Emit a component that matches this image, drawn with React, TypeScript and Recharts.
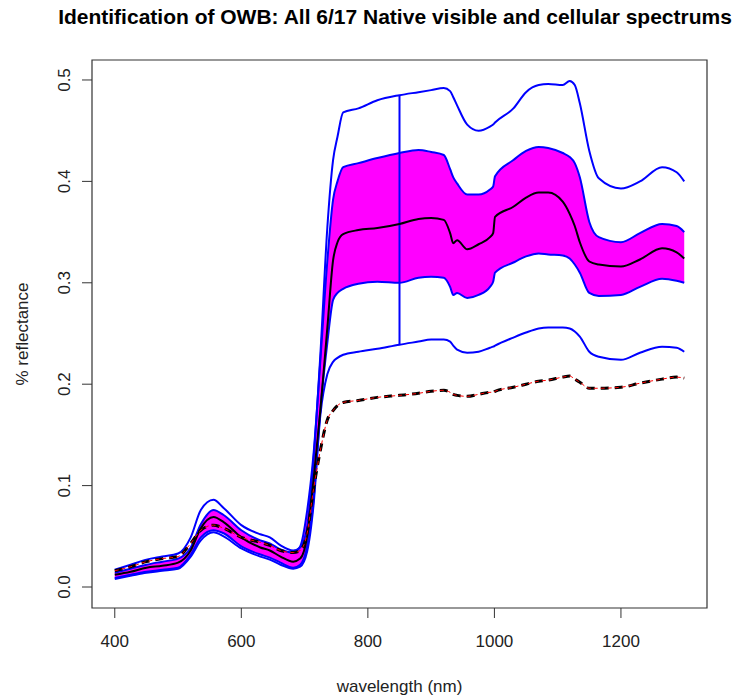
import React from "react";
import {
  Area,
  ComposedChart,
  Label,
  Line,
  ReferenceArea,
  ReferenceLine,
  XAxis,
  YAxis,
} from "recharts";

const FONT = "'Liberation Sans', Arial, sans-serif";

// wavelength grid (nm)
const wavelengths = [
  400, 425, 450, 475, 500, 520, 536, 556, 572, 600, 630, 645, 662, 682, 693, 704, 714, 725, 736, 745, 752,
  761, 785, 815, 850, 880, 900, 920, 930, 935, 941, 957, 975, 993, 998, 1001, 1030, 1050, 1070, 1085, 1108,
  1119, 1127, 1135, 1150, 1165, 1200, 1230, 1265, 1288, 1300,
];

const maxSpectrum = [
  0.017, 0.022, 0.027, 0.03, 0.033, 0.049, 0.076, 0.086, 0.078, 0.061, 0.052, 0.049, 0.041, 0.036, 0.039, 0.059, 0.125, 0.23, 0.355, 0.421, 0.444,
  0.468, 0.472, 0.48, 0.485, 0.488, 0.49, 0.492, 0.489, 0.483, 0.475, 0.456, 0.45, 0.454, 0.456, 0.458, 0.472, 0.488, 0.495, 0.496, 0.495,
  0.499, 0.495, 0.477, 0.43, 0.403, 0.393, 0.4, 0.414, 0.409, 0.4,
];

const upperSd = [
  0.014, 0.018, 0.022, 0.025, 0.028, 0.039, 0.062, 0.076, 0.071, 0.056, 0.046, 0.043, 0.037, 0.034, 0.04, 0.075, 0.13, 0.224, 0.322, 0.382, 0.4,
  0.414, 0.418, 0.423, 0.428, 0.431, 0.429, 0.426, 0.412, 0.404, 0.398, 0.387, 0.387, 0.392, 0.395, 0.405, 0.421, 0.43, 0.434, 0.433, 0.428,
  0.424, 0.418, 0.404, 0.36, 0.345, 0.34, 0.349, 0.358, 0.356, 0.35,
];

const meanSpectrum = [
  0.012, 0.015, 0.019, 0.021, 0.024, 0.036, 0.058, 0.069, 0.064, 0.049, 0.039, 0.036, 0.03, 0.025, 0.028, 0.05, 0.105, 0.175, 0.256, 0.322, 0.34,
  0.348, 0.352, 0.354, 0.358, 0.363, 0.364, 0.362, 0.349, 0.339, 0.342, 0.333, 0.338, 0.345, 0.349, 0.365, 0.375, 0.384, 0.389, 0.389, 0.38,
  0.368, 0.356, 0.34, 0.321, 0.318, 0.316, 0.323, 0.334, 0.33, 0.324,
];

const lowerSd = [
  0.009, 0.012, 0.015, 0.017, 0.019, 0.032, 0.049, 0.056, 0.053, 0.04, 0.032, 0.029, 0.024, 0.019, 0.022, 0.04, 0.085, 0.175, 0.241, 0.283, 0.29,
  0.294, 0.299, 0.301, 0.3, 0.305, 0.306, 0.305, 0.296, 0.288, 0.29, 0.285, 0.288, 0.296, 0.301, 0.31, 0.32, 0.326, 0.329, 0.328, 0.327,
  0.324, 0.318, 0.31, 0.29, 0.287, 0.288, 0.296, 0.304, 0.302, 0.3,
];

const minSpectrum = [
  0.008, 0.011, 0.014, 0.016, 0.018, 0.03, 0.046, 0.054, 0.05, 0.038, 0.03, 0.027, 0.022, 0.018, 0.02, 0.035, 0.08, 0.17, 0.21, 0.222, 0.226,
  0.229, 0.232, 0.235, 0.239, 0.242, 0.244, 0.244, 0.242, 0.238, 0.234, 0.231, 0.232, 0.236, 0.237, 0.238, 0.246, 0.251, 0.255, 0.256, 0.256,
  0.255, 0.252, 0.247, 0.232, 0.227, 0.224, 0.231, 0.237, 0.236, 0.232,
];

const referenceSpectrum = [
  0.016, 0.02, 0.025, 0.028, 0.03, 0.043, 0.056, 0.061, 0.058, 0.049, 0.044, 0.041, 0.036, 0.034, 0.036, 0.053, 0.096, 0.135, 0.165, 0.174, 0.179,
  0.182, 0.184, 0.187, 0.189, 0.191, 0.193, 0.194, 0.192, 0.19, 0.189, 0.188, 0.19, 0.192, 0.192, 0.193, 0.197, 0.2, 0.203, 0.204, 0.207,
  0.208, 0.205, 0.202, 0.196, 0.196, 0.197, 0.201, 0.205, 0.207, 0.206,
];

// stray vertical segment at ~850 nm
const spikeWavelength = 850;
const spikeLow = 0.239;
const spikeHigh = 0.485;

const xTicks = [400, 600, 800, 1000, 1200];
const yTicks = [0, 0.1, 0.2, 0.3, 0.4, 0.5];
const xDomain = [364, 1336];
const yDomain = [-0.0207, 0.5197];

const rows = wavelengths.map((wl, i) => ({
  wl,
  max: maxSpectrum[i],
  upper: upperSd[i],
  mean: meanSpectrum[i],
  lower: lowerSd[i],
  band: [lowerSd[i], upperSd[i]],
  min: minSpectrum[i],
  ref: referenceSpectrum[i],
}));

function XTick(props: any) {
  const { x, y, payload } = props;
  return (
    <text x={x} y={y + 27} textAnchor="middle" fontSize={17} fill="#222" fontFamily={FONT}>
      {payload.value}
    </text>
  );
}

function YTick(props: any) {
  const { x, y, payload } = props;
  const tx = x - 10;
  return (
    <text
      x={tx}
      y={y}
      transform={`rotate(-90, ${tx}, ${y})`}
      textAnchor="middle"
      fontSize={17}
      fill="#222"
      fontFamily={FONT}
    >
      {Number(payload.value).toFixed(1)}
    </text>
  );
}

export default function App() {
  return (
    <div style={{ position: "absolute", left: 0, top: 0, width: 747, height: 698, background: "#fff" }}>
      <div
        style={{
          position: "absolute",
          left: 0,
          top: 6,
          width: 790,
          textAlign: "center",
          fontFamily: FONT,
          fontWeight: "bold",
          fontSize: 21,
          lineHeight: "21px",
          color: "#000",
          whiteSpace: "nowrap",
        }}
      >
        Identification of OWB: All 6/17 Native visible and cellular spectrums
      </div>
      <ComposedChart width={747} height={698} data={rows} margin={{ top: 60, right: 40, bottom: 0, left: 0 }}>
        <XAxis
          dataKey="wl"
          type="number"
          domain={xDomain}
          allowDataOverflow
          ticks={xTicks}
          height={90}
          axisLine={false}
          tickSize={10}
          tickLine={{ stroke: "#333" }}
          tick={<XTick />}
          interval={0}
        >
          <Label
            content={(p: any) => {
              const vb = p.viewBox;
              return (
                <text
                  x={vb.x + vb.width / 2}
                  y={692}
                  textAnchor="middle"
                  fontSize={17}
                  fill="#222"
                  fontFamily={FONT}
                >
                  wavelength (nm)
                </text>
              );
            }}
          />
        </XAxis>
        <YAxis
          type="number"
          domain={yDomain}
          allowDataOverflow
          ticks={yTicks}
          width={92}
          axisLine={false}
          tickSize={10}
          tickLine={{ stroke: "#333" }}
          tick={<YTick />}
          interval={0}
        >
          <Label
            content={(p: any) => {
              const vb = p.viewBox;
              const cy = vb.y + vb.height / 2;
              return (
                <text
                  x={28}
                  y={cy}
                  transform={`rotate(-90, 28, ${cy})`}
                  textAnchor="middle"
                  fontSize={17}
                  fill="#222"
                  fontFamily={FONT}
                >
                  % reflectance
                </text>
              );
            }}
          />
        </YAxis>
        <Area
          dataKey="band"
          type="monotone"
          stroke="none"
          fill="#ff00ff"
          fillOpacity={1}
          isAnimationActive={false}
        />
        <Line dataKey="upper" type="monotone" stroke="#0000ff" strokeWidth={2} dot={false} isAnimationActive={false} />
        <Line dataKey="lower" type="monotone" stroke="#0000ff" strokeWidth={2} dot={false} isAnimationActive={false} />
        <Line dataKey="max" type="monotone" stroke="#0000ff" strokeWidth={2} dot={false} isAnimationActive={false} />
        <Line dataKey="min" type="monotone" stroke="#0000ff" strokeWidth={2} dot={false} isAnimationActive={false} />
        <ReferenceLine
          segment={[
            { x: spikeWavelength, y: spikeLow },
            { x: spikeWavelength, y: spikeHigh },
          ]}
          stroke="#0000ff"
          strokeWidth={2}
        />
        <Line dataKey="mean" type="monotone" stroke="#000" strokeWidth={2} dot={false} isAnimationActive={false} />
        <Line
          dataKey="ref"
          type="monotone"
          stroke="#000"
          strokeWidth={3}
          strokeDasharray="8 6"
          dot={false}
          isAnimationActive={false}
        />
        <Line
          dataKey="ref"
          type="monotone"
          stroke="#ff0000"
          strokeWidth={1}
          strokeDasharray="4 3"
          dot={false}
          isAnimationActive={false}
        />
        <ReferenceArea
          x1={xDomain[0]}
          x2={xDomain[1]}
          y1={yDomain[0]}
          y2={yDomain[1]}
          fill="none"
          stroke="#333"
          strokeWidth={1.2}
          fillOpacity={0}
        />
      </ComposedChart>
    </div>
  );
}
